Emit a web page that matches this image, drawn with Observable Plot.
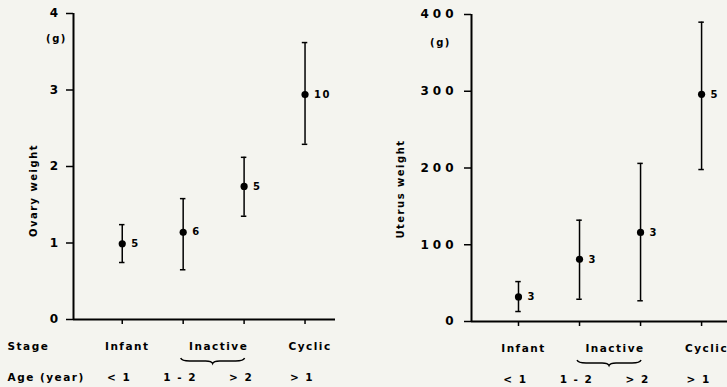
<!DOCTYPE html>
<html>
<head>
<meta charset="utf-8">
<script src="https://cdn.jsdelivr.net/npm/d3@7"></script>
<script src="https://cdn.jsdelivr.net/npm/@observablehq/plot@0.6"></script>
<style>
  html, body { margin: 0; padding: 0; background: #f4f4ef; }
  #wrap { position: relative; width: 727px; height: 387px; overflow: hidden; background: #f4f4ef; }
  #left, #right { position: absolute; top: 0; height: 387px; }
  #left { left: 0; width: 360px; }
  #right { left: 360px; width: 400px; }
  #right g[aria-label="y-axis tick label"] text { letter-spacing: 4px; }
  svg { overflow: visible; max-width: none !important; }
</style>
</head>
<body>
<div id="wrap"><div id="left"></div><div id="right"></div></div>
<script>
// ---- data ----
const stages = ["Infant", "Inactive", "Inactive", "Cyclic"];
const ages = ["< 1", "1 - 2", "> 2", "> 1"];

const ovaryMean = [0.99, 1.14, 1.74, 2.94];
const ovaryLow  = [0.745, 0.65, 1.35, 2.29];
const ovaryHigh = [1.24, 1.58, 2.12, 3.62];
const ovaryN    = [5, 6, 5, 10];
const ovaryTicks = [0, 1, 2, 3, 4];

const uterusMean = [32, 81, 116, 296];
const uterusLow  = [13, 29, 27, 198];
const uterusHigh = [52, 132, 206, 390];
const uterusN    = [3, 3, 3, 5];
const uterusTicks = [0, 100, 200, 300, 400];

const FONT = "'DejaVu Sans', sans-serif";

function panel(o) {
  const rows = stages.map((s, i) => ({
    x: i + 1, stage: s, age: ages[i],
    mean: o.mean[i], low: o.low[i], high: o.high[i], n: o.n[i]
  }));
  const groups = d3.groups(rows, d => d.stage).map(([s, rs]) => ({stage: s, x: d3.mean(rs, r => r.x)}));
  const inactive = rows.filter(r => r.stage === "Inactive");
  const cap = 0.045;

  const brace = (index, scales, values, dims) => {
    const x1 = scales.x(d3.min(inactive, r => r.x)) - 2;
    const x2 = scales.x(d3.max(inactive, r => r.x)) + 1;
    const y0 = scales.y(0) + 39;
    const m = (x1 + x2) / 2;
    const p = d3.path();
    p.moveTo(x1, y0);
    p.quadraticCurveTo(x1 + 1, y0 + 3, x1 + 9, y0 + 3);
    p.lineTo(m - 7, y0 + 3);
    p.quadraticCurveTo(m - 1, y0 + 3, m, y0 + 5.5);
    p.quadraticCurveTo(m + 1, y0 + 3, m + 7, y0 + 3);
    p.lineTo(x2 - 9, y0 + 3);
    p.quadraticCurveTo(x2 - 1, y0 + 3, x2, y0);
    return d3.create("svg:path")
      .attr("d", p.toString())
      .attr("fill", "none")
      .attr("stroke", "black")
      .attr("stroke-width", 1.4)
      .node();
  };

  const marks = [
    Plot.ruleY([0], {strokeWidth: 2}),
    Plot.ruleX([o.xDomain[0]], {strokeWidth: 2}),
    Plot.axisY({
      ticks: o.yTicks, tickSize: 7, tickPadding: 7, strokeWidth: 1.5,
      tickFormat: d => String(d),
      fontSize: 12, fontWeight: "bold", label: null
    }),
    Plot.axisX({
      ticks: rows.map(r => r.x), tickSize: 5, strokeWidth: 1.5,
      tickFormat: () => "", label: null
    }),
    // y title
    Plot.text([o.yLabel], {
      frameAnchor: "left", textAnchor: "middle", lineAnchor: "middle",
      rotate: -90, dx: o.titleDx, dy: o.titleDy,
      fontSize: 10, fontWeight: "bold", text: d => d
    }),
    // unit
    Plot.text(["(g)"], {
      frameAnchor: "top-left", textAnchor: "middle", lineAnchor: "middle",
      dx: o.unitDx, dy: o.unitDy,
      fontSize: 10, fontWeight: "bold", text: d => d
    }),
    // error bars
    Plot.ruleX(rows, {x: "x", y1: "low", y2: "high", strokeWidth: 1.5}),
    Plot.ruleY(rows, {y: "low", x1: d => d.x - cap, x2: d => d.x + cap, strokeWidth: 1.5}),
    Plot.ruleY(rows, {y: "high", x1: d => d.x - cap, x2: d => d.x + cap, strokeWidth: 1.5}),
    Plot.dot(rows, {x: "x", y: "mean", r: 3.6, fill: "black", stroke: "none"}),
    Plot.text(rows, {
      x: "x", y: "mean", text: d => String(d.n), textAnchor: "start", dx: 9,
      fontSize: 10, fontWeight: 600
    }),
    // stage row
    Plot.text(groups, {
      x: "x", text: "stage", frameAnchor: "bottom", lineAnchor: "middle", dy: 27, dx: 5,
      fontSize: 10.5, fontWeight: "bold"
    }),
    // age row
    Plot.text(rows, {
      x: "x", text: "age", frameAnchor: "bottom", lineAnchor: "middle", dy: 58, dx: -3,
      fontSize: 10.5, fontWeight: "bold"
    }),
    brace
  ];
  if (o.rowTitles) {
    marks.push(Plot.text(["Stage"], {
      frameAnchor: "bottom-left", textAnchor: "start", lineAnchor: "middle", dx: -66, dy: 27,
      text: d => d, fontSize: 10.5, fontWeight: "bold"
    }));
    marks.push(Plot.text(["Age (year)"], {
      frameAnchor: "bottom-left", textAnchor: "start", lineAnchor: "middle", dx: -66, dy: 58,
      text: d => d, fontSize: 10.5, fontWeight: "bold"
    }));
  }

  return Plot.plot({
    width: o.width, height: 387,
    marginLeft: o.marginLeft, marginRight: o.marginRight,
    marginTop: o.marginTop, marginBottom: o.marginBottom,
    x: {type: "linear", domain: o.xDomain},
    y: {domain: [o.yTicks[0], o.yTicks[o.yTicks.length - 1]]},
    style: {fontFamily: FONT, background: "transparent", color: "black", letterSpacing: "1.5px", overflow: "visible", maxWidth: "none"},
    marks
  });
}

document.getElementById("left").append(panel({
  width: 360, marginLeft: 73, marginRight: 25, marginTop: 13, marginBottom: 68,
  xDomain: [0.2, 4.5], yTicks: ovaryTicks,
  mean: ovaryMean, low: ovaryLow, high: ovaryHigh, n: ovaryN,
  yLabel: "Ovary weight", titleDx: -40, titleDy: 24,
  unitDx: -17, unitDy: 25, rowTitles: true
}));

document.getElementById("right").append(panel({
  width: 400, marginLeft: 111, marginRight: 28.4, marginTop: 14, marginBottom: 66,
  xDomain: [0.23, 4.5], yTicks: uterusTicks,
  mean: uterusMean, low: uterusLow, high: uterusHigh, n: uterusN,
  yLabel: "Uterus weight", titleDx: -71, titleDy: 21,
  unitDx: -31, unitDy: 28, rowTitles: false
}));
</script>
</body>
</html>
